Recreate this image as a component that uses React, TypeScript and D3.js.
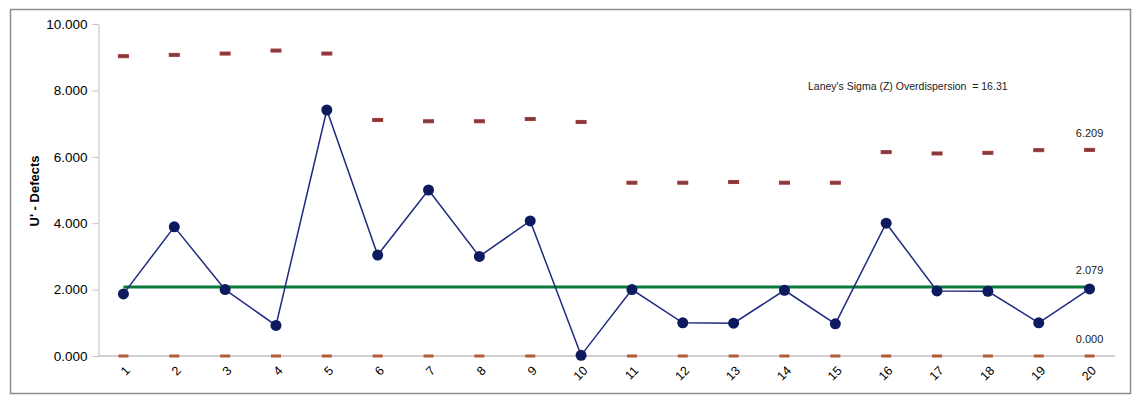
import { useEffect, useRef } from 'react';
import * as d3 from 'd3';

const samples = ['1','2','3','4','5','6','7','8','9','10','11','12','13','14','15','16','17','18','19','20'];
const uPrime = [1.87, 3.89, 2.0, 0.92, 7.41, 3.04, 5.0, 3.0, 4.07, 0.02, 2.0, 1.0, 0.99, 1.98, 0.97, 4.0, 1.96, 1.95, 1.0, 2.02];
const ucl = [9.03, 9.07, 9.11, 9.2, 9.11, 7.11, 7.07, 7.07, 7.14, 7.05, 5.22, 5.22, 5.24, 5.22, 5.22, 6.14, 6.1, 6.12, 6.2, 6.209];
const lcl = [0, 0, 0, 0, 0, 0, 0, 0, 0, 0, 0, 0, 0, 0, 0, 0, 0, 0, 0, 0];
const centerLine = 2.079;
const yTicks = [0, 2, 4, 6, 8, 10];
const laneyText = "Laney's Sigma (Z) Overdispersion  = 16.31";

export default function App() {
  const ref = useRef<SVGSVGElement>(null);

  useEffect(() => {
    const svg = d3.select(ref.current);
    svg.selectAll('*').remove();
    const font = '"Liberation Sans", Arial, sans-serif';

    // outer frame
    svg.append('rect').attr('x', 10.5).attr('y', 9.5).attr('width', 1120).attr('height', 384)
      .attr('fill', '#fff').attr('stroke', '#8c8c8c').attr('stroke-width', 1.5);

    const x = d3.scaleBand().domain(samples).range([98, 1115]);
    const y = d3.scaleLinear().domain([0, 10]).range([356, 24]);
    const cx = (d: string) => (x(d) as number) + x.bandwidth() / 2;

    // y axis
    const yAxis = svg.append('g').attr('transform', 'translate(98.5,0)')
      .call(d3.axisLeft(y).tickValues(yTicks).tickFormat(d3.format('.3f')).tickSize(6).tickSizeOuter(0).tickPadding(5));
    yAxis.select('.domain').attr('stroke', '#bfbfbf');
    yAxis.selectAll('.tick line').attr('stroke', '#bfbfbf');
    yAxis.selectAll('text').style('font-family', font).style('font-size', '13.5px').style('fill', '#000');

    // x axis line
    svg.append('line').attr('x1', 98).attr('x2', 1115).attr('y1', y(0)).attr('y2', y(0))
      .attr('stroke', '#d0d0d0').attr('stroke-width', 2);

    // x tick labels
    svg.append('g').selectAll('text').data(samples).enter().append('text')
      .attr('transform', d => `translate(${cx(d) + 5},${369}) rotate(-45)`)
      .attr('text-anchor', 'end').attr('dominant-baseline', 'middle')
      .style('font-family', font).style('font-size', '12.5px').style('fill', '#000')
      .text(d => d);

    // y title
    svg.append('text').attr('transform', 'translate(39,191) rotate(-90)')
      .attr('text-anchor', 'middle')
      .style('font-family', font).style('font-size', '13px').style('font-weight', 'bold').style('fill', '#000')
      .text("U' - Defects");

    // LCL markers
    svg.append('g').selectAll('rect').data(samples).enter().append('rect')
      .attr('x', d => cx(d) - 5).attr('y', (d, i) => y(lcl[i]) - 1.5)
      .attr('width', 10).attr('height', 3)
      .attr('fill', '#b45a36');

    // center line
    svg.append('line')
      .attr('x1', cx(samples[0])).attr('x2', cx(samples[samples.length - 1]))
      .attr('y1', y(centerLine)).attr('y2', y(centerLine))
      .attr('stroke', '#0a7a3a').attr('stroke-width', 3);

    // UCL markers
    svg.append('g').selectAll('rect').data(samples).enter().append('rect')
      .attr('x', d => cx(d) - 5).attr('y', (d, i) => y(ucl[i]) - 1.5)
      .attr('width', 10).attr('height', 3)
      .attr('fill', '#7a3a4a').attr('stroke', '#a8382f').attr('stroke-width', 1);

    // data line + points
    const line = d3.line<number>().x((d, i) => cx(samples[i])).y(d => y(d));
    svg.append('path').attr('d', line(uPrime) as string)
      .attr('fill', 'none').attr('stroke', '#1f2a80').attr('stroke-width', 1.5);
    svg.append('g').selectAll('circle').data(uPrime).enter().append('circle')
      .attr('cx', (d, i) => cx(samples[i])).attr('cy', d => y(d)).attr('r', 5.5)
      .attr('fill', '#0d1a5e');

    // labels on the right
    const last = cx(samples[samples.length - 1]);
    const labels = [
      { v: ucl[ucl.length - 1], t: ucl[ucl.length - 1].toFixed(3) },
      { v: centerLine, t: centerLine.toFixed(3) },
      { v: lcl[lcl.length - 1], t: lcl[lcl.length - 1].toFixed(3) },
    ];
    svg.append('g').selectAll('text').data(labels).enter().append('text')
      .attr('x', last).attr('y', d => y(d.v) - 13)
      .attr('text-anchor', 'middle')
      .style('font-family', font).style('font-size', '11px').style('fill', '#1a1a1a')
      .text(d => d.t);

    svg.append('text').attr('x', 808).attr('y', 90)
      .style('font-family', font).style('font-size', '10.5px').style('fill', '#1a1a1a')
      .style('white-space', 'pre')
      .text(laneyText);
  }, []);

  return (
    <div style={{ position: 'absolute', left: 0, top: 0 }}>
      <svg ref={ref} width={1138} height={399} style={{ display: 'block' }} />
    </div>
  );
}
